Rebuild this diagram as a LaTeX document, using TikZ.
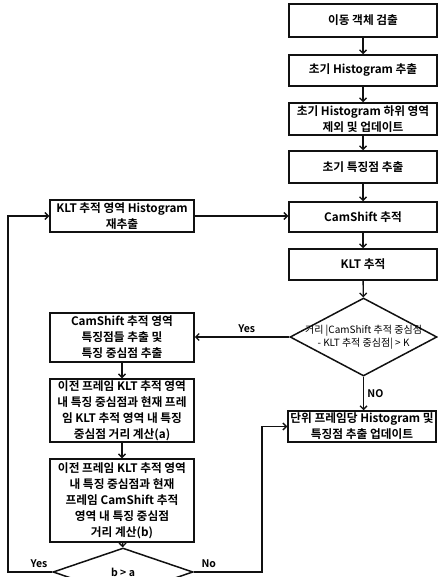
\documentclass[tikz,border=0pt]{standalone}
\usepackage{fontspec}
\setmainfont{Noto Sans CJK KR}[BoldFont={Noto Sans CJK KR Bold}]
\usepackage{tikz}
\usetikzlibrary{arrows.meta,positioning,shapes.geometric}
\definecolor{ink}{HTML}{111111}

\begin{document}
\begin{tikzpicture}[x=1pt,y=-1pt,
    box/.style={draw=ink,line width=1.5pt,minimum width=148pt,inner xsep=1pt,inner ysep=0pt,
                align=center,font=\bfseries\fontsize{11.7}{16}\selectfont},
    cond/.style={draw=ink,diamond,line width=1.5pt,inner sep=0pt},
    arr/.style={draw=ink,line width=1.3pt,-{Straight Barb[length=3.5pt,width=7pt]}},
    lbl/.style={font=\bfseries\fontsize{10.5}{12}\selectfont}]
  \useasboundingbox (0,0) rectangle (438,577);
  \clip (0,0) rectangle (438,577);

  % main column
  \node[box,minimum height=33pt] (detect) at (363,20.5) {이동 객체 검출};
  \node[box,minimum height=31pt] (hist) at (363,70.5) {초기 Histogram 추출};
  \node[box,minimum height=32pt] (excl) at (363,119) {초기 Histogram 하위 영역\\제외 및 업데이트};
  \node[box,minimum height=32pt] (feat) at (363,167) {초기 특징점 추출};
  \node[box,minimum height=30pt] (cams) at (363,217) {CamShift 추적};
  \node[box,minimum height=31pt] (klt) at (363,264.5) {KLT 추적};
  \node[cond,minimum width=147pt,minimum height=78pt] (dist) at (363.5,337) {};
  \node[font=\fontsize{10}{12.5}\selectfont,align=center] (disttext) at (dist.center)
    {거리 |CamShift 추적 중심점\\- KLT 추적 중심점| > K};
  \node[box,minimum height=31pt] (upd) at (362,426.5) {단위 프레임당 Histogram 및\\특징점 추출 업데이트};

  % side column
  \node[box,minimum width=144pt,minimum height=32pt] (rehist) at (122,216) {KLT 추적 영역 Histogram\\재추출};
  \node[box,minimum width=144pt,minimum height=49pt] (cfeat) at (122,337.5)
    {CamShift 추적 영역\\특징점들 추출 및\\특징 중심점 추출};
  \node[box,minimum width=144pt,minimum height=63pt] (dista) at (122,410.5)
    {이전 프레임 KLT 추적 영역\\내 특징 중심점과 현재 프레\\임 KLT 추적 영역 내 특징\\중심점 거리 계산(a)};
  \node[box,minimum width=144pt,minimum height=83pt] (distb) at (122,500.5)
    {이전 프레임 KLT 추적 영역\\내 특징 중심점과 현재\\프레임 CamShift 추적\\영역 내 특징 중심점\\거리 계산(b)};
  \node[cond,minimum width=140pt,minimum height=48pt] (cmp) at (123,572) {};
  \node[lbl] (cmptext) at (cmp.center) {b > a};

  \coordinate (yesturn) at (8,572);
  \coordinate (noturn) at (262,572);

  % connectors
  \draw[arr] (detect) -- (hist);
  \draw[arr] (hist) -- (excl);
  \draw[arr] (excl) -- (feat);
  \draw[arr] (feat) -- (cams);
  \draw[arr] (cams) -- (klt);
  \draw[arr] (klt) -- (dist);
  \draw[arr] (dist.west) -- node[lbl,above,pos=0.45] {Yes} (dist.west -| cfeat.east);
  \draw[arr] (dist.south) -- node[lbl,right,pos=0.5] {NO} (dist.south |- upd.north);
  \draw[arr] (rehist.east) -- (rehist.east -| cams.west);
  \draw[arr] (cfeat) -- (dista);
  \draw[arr] (dista) -- (distb);
  \draw[arr] (distb) -- (cmp);
  \draw[arr] (cmp.west) -- node[lbl,above,pos=0.3] {Yes} (yesturn) |- (rehist.west);
  \draw[arr] (cmp.east) -- node[lbl,above,pos=0.22] {No} (noturn) |- (upd.west);
\end{tikzpicture}
\end{document}
